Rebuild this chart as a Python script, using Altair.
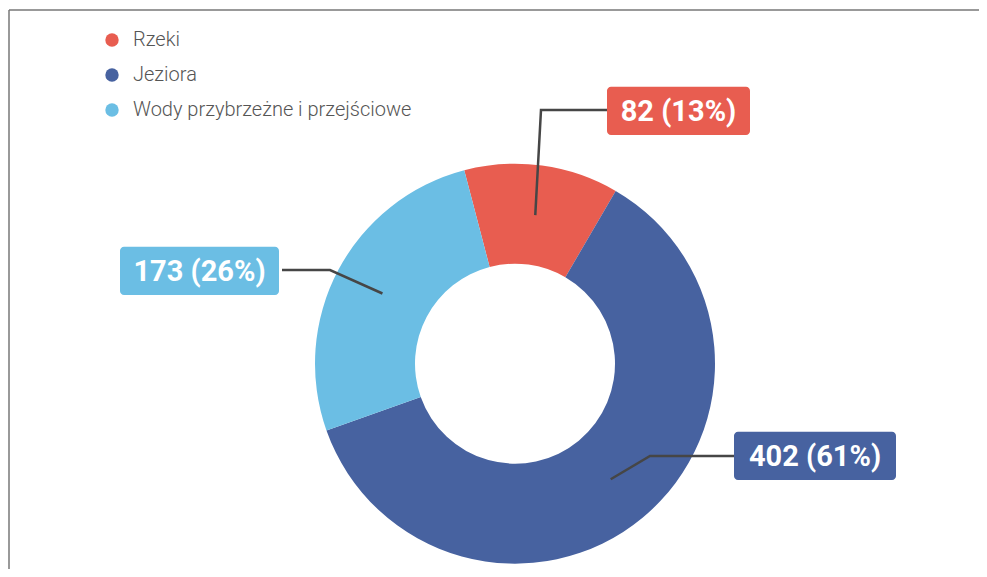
import math
import altair as alt
import pandas as pd

# ---- data ----
categories = ["Rzeki", "Jeziora", "Wody przybrzeżne i przejściowe"]
values = [82, 402, 173]
labels = ["82 (13%)", "402 (61%)", "173 (26%)"]
colors = ["#E85D50", "#4762A0", "#6BBEE4"]

# ---- layout (pixels in plot area) ----
W, H = 971, 561
CX, CY = 507, 355.7
R_OUT, R_IN = 200, 100
START = -14.7 * math.pi / 180  # start angle of first slice (clockwise from 12 o'clock)
LEADER_R = 150
elbows = [(533, 102), (642, 448), (322, 262)]
ends = [(599, 102), (727, 448), (274, 262)]
boxes = [(599, 78.7, 742, 127), (726, 423.7, 888, 472), (112, 238.7, 271, 287)]
legend_rows = [32, 67, 102]

total = sum(values)
arc_df = pd.DataFrame({"cat": categories, "value": values, "idx": range(3)})

# leader lines computed from slice mid-angles
rows = []
acc = 0
for i, v in enumerate(values):
    mid = START + 2 * math.pi * (acc + v / 2) / total
    acc += v
    sx = CX + LEADER_R * math.sin(mid)
    sy = CY - LEADER_R * math.cos(mid)
    pts = [(sx, sy), elbows[i], ends[i]]
    for k, (px, py) in enumerate(pts):
        rows.append({"cat": categories[i], "k": k, "px": px, "py": py})
line_df = pd.DataFrame(rows)

box_df = pd.DataFrame({
    "cat": categories,
    "label": labels,
    "x": [b[0] for b in boxes],
    "y": [b[1] for b in boxes],
    "x2": [b[2] for b in boxes],
    "y2": [b[3] for b in boxes],
})
box_df["tx"] = (box_df["x"] + box_df["x2"]) / 2
box_df["ty"] = (box_df["y"] + box_df["y2"]) / 2

color_scale = alt.Scale(domain=categories, range=colors)
xs = alt.Scale(domain=[0, W], range=[0, W], zero=False, nice=False)
ys = alt.Scale(domain=[0, H], range=[0, H], zero=False, nice=False)

arcs = alt.Chart(arc_df).mark_arc(outerRadius=R_OUT, innerRadius=R_IN).encode(
    theta=alt.Theta("value:Q", stack=True,
                    scale=alt.Scale(range=[START + 2 * math.pi, START + 4 * math.pi])),
    order=alt.Order("idx:Q"),
    color=alt.Color("cat:N", scale=color_scale, legend=None),
    x=alt.value(CX), y=alt.value(CY),
)

leaders = alt.Chart(line_df).mark_line(color="#464646", strokeWidth=2.5).encode(
    x=alt.X("px:Q", scale=xs, axis=None),
    y=alt.Y("py:Q", scale=ys, axis=None),
    detail="cat:N",
    order="k:Q",
)

rects = alt.Chart(box_df).mark_rect(cornerRadius=4).encode(
    x=alt.X("x:Q", scale=xs, axis=None), x2="x2:Q",
    y=alt.Y("y:Q", scale=ys, axis=None), y2="y2:Q",
    color=alt.Color("cat:N", scale=color_scale, legend=None),
)

texts = alt.Chart(box_df).mark_text(
    font="Roboto", fontWeight="bold", fontSize=29, color="white", baseline="middle", dy=1
).encode(
    x=alt.X("tx:Q", scale=xs, axis=None),
    y=alt.Y("ty:Q", scale=ys, axis=None),
    text="label:N",
)

leg_df = pd.DataFrame({"cat": categories, "row": legend_rows})
leg_pts = alt.Chart(leg_df).mark_circle(size=180, opacity=1).encode(
    x=alt.value(104),
    y=alt.Y("row:Q", scale=ys, axis=None),
    color=alt.Color("cat:N", scale=color_scale, legend=None),
)
leg_txt = alt.Chart(leg_df).mark_text(
    font="Roboto", fontWeight=300, fontSize=20, color="#555555", align="left", baseline="middle"
).encode(
    x=alt.value(125),
    y=alt.Y("row:Q", scale=ys, axis=None),
    text="cat:N",
)

frame_top = alt.Chart(leg_df.head(1)).mark_rule(color="#777777", strokeWidth=1.5).encode(
    x=alt.value(1), x2=alt.value(W), y=alt.value(2)
)
frame_left = alt.Chart(leg_df.head(1)).mark_rule(color="#777777", strokeWidth=1.5).encode(
    x=alt.value(1), y=alt.value(2), y2=alt.value(H)
)

chart = alt.layer(
    frame_top, frame_left, arcs, leaders, rects, texts, leg_pts, leg_txt
).properties(
    width=W, height=H, padding=0, autosize=alt.AutoSizeParams(type="none")
).configure_view(stroke=None)

chart.save("out.html", embed_options={"renderer": "svg", "actions": False})
